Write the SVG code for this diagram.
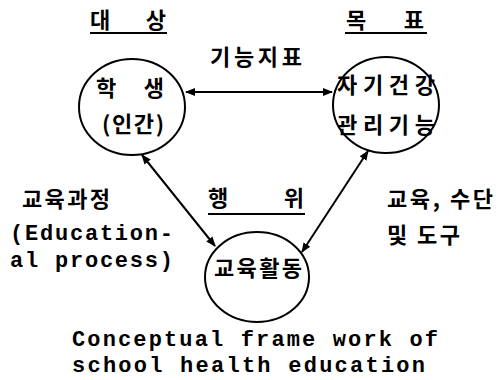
<svg xmlns="http://www.w3.org/2000/svg" width="504" height="380" viewBox="0 0 504 380">
<style>
.node{fill:none;stroke:#000;stroke-width:2}
.ko{font-family:"Noto Sans CJK KR","Noto Sans",sans-serif;font-weight:bold;font-size:22px;fill:#000}
.en{font-family:"Liberation Mono","Courier New",monospace;font-weight:bold;font-size:22px;fill:#000}
.ul{stroke:#000;stroke-width:2}
.conn{stroke:#000;stroke-width:2;fill:none;marker-start:url(#ah);marker-end:url(#ah)}
</style>
<defs>
<marker id="ah" viewBox="0 0 10 10" refX="9" refY="5" markerWidth="5" markerHeight="5" orient="auto-start-reverse" markerUnits="strokeWidth">
<path d="M0,1 L10,5 L0,9 Z" fill="#000"/>
</marker>
</defs>
<rect width="504" height="380" fill="#fff"/>
<g id="labels">
<text class="ko" x="90" y="28" textLength="76" lengthAdjust="spacing">대   상</text>
<line class="ul" x1="90" y1="33" x2="167" y2="33"/>
<text class="ko" x="346" y="28" textLength="78" lengthAdjust="spacing">목   표</text>
<line class="ul" x1="345" y1="33" x2="427" y2="33"/>
<text class="ko" x="210" y="65" textLength="92" lengthAdjust="spacing">기능지표</text>
<text class="ko" x="22" y="207" textLength="88" lengthAdjust="spacing">교육과정</text>
<text class="en" x="10" y="240" textLength="163" lengthAdjust="spacing">(Education-</text>
<text class="en" x="10" y="267" textLength="163" lengthAdjust="spacing">al process)</text>
<text class="ko" x="208" y="206" textLength="96" lengthAdjust="spacing">행      위</text>
<line class="ul" x1="208" y1="214" x2="305" y2="214"/>
<text class="ko" x="387" y="207" textLength="106" lengthAdjust="spacing">교육, 수단</text>
<text class="ko" x="387" y="243" textLength="73" lengthAdjust="spacing">및 도구</text>
<text class="en" x="72" y="346" textLength="366" lengthAdjust="spacing">Conceptual frame work of</text>
<text class="en" x="72" y="372" textLength="353" lengthAdjust="spacing">school health education</text>
</g>
<g id="student">
<ellipse class="node" cx="132" cy="107" rx="53" ry="48"/>
<text class="ko" x="96" y="96" textLength="68" lengthAdjust="spacing">학   생</text>
<text class="ko" x="102" y="132" textLength="62" lengthAdjust="spacing">(인간)</text>
</g>
<g id="goal">
<ellipse class="node" cx="386" cy="105" rx="53" ry="48"/>
<text class="ko" x="337" y="93" textLength="98" lengthAdjust="spacing">자기건강</text>
<text class="ko" x="337" y="133" textLength="98" lengthAdjust="spacing">관리기능</text>
</g>
<g id="activity">
<ellipse class="node" cx="257" cy="277" rx="52" ry="45"/>
<text class="ko" x="214" y="276" textLength="88" lengthAdjust="spacing">교육활동</text>
</g>
<g id="connectors">
<line class="conn" x1="186" y1="92" x2="332" y2="92"/>
<line class="conn" x1="142" y1="155" x2="215" y2="246"/>
<line class="conn" x1="368" y1="151" x2="302" y2="252"/>
</g>
</svg>
